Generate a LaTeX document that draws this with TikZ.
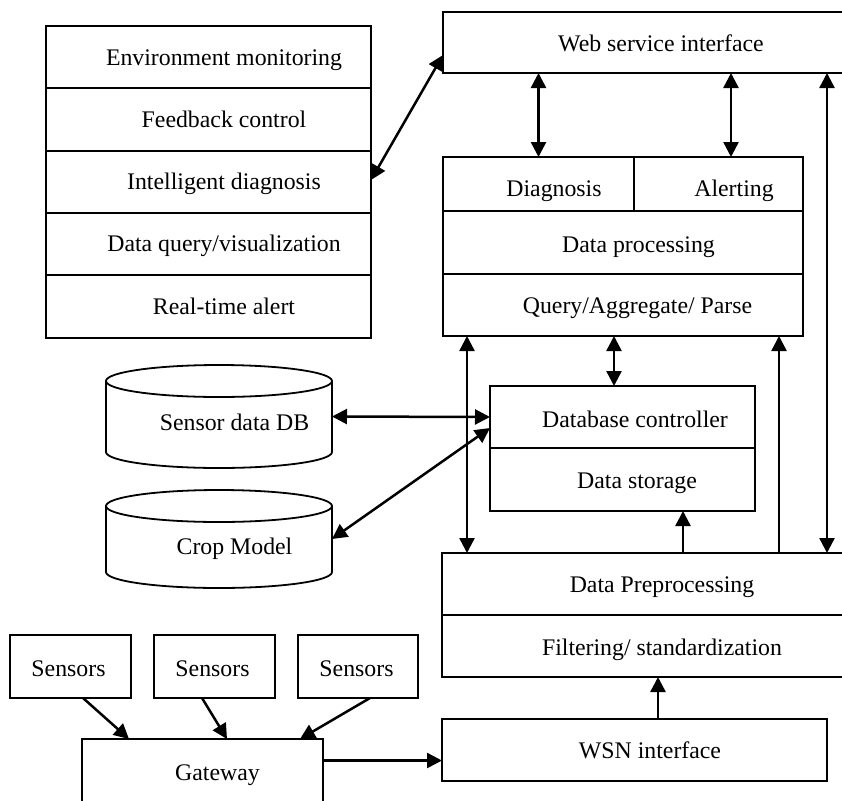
\documentclass[tikz,border=0pt]{standalone}
\usepackage{fontspec}
\setmainfont{Liberation Serif}
\usetikzlibrary{arrows.meta}
\newcommand\mybox[5]{\node[box,minimum width={(#4)-(#2)},minimum height={(#5)-(#3)}] (#1) at ({((#2)+(#4))/2},{((#3)+(#5))/2}) {};}
\begin{document}
\begin{tikzpicture}[x=1pt,y=-1pt,
  box/.style={draw,line width=1.8pt,inner sep=0pt,outer sep=0pt},
  lbl/.style={inner sep=0pt,text height=15.7pt,text depth=0pt,font=\fontsize{23.8}{28}\selectfont},
  conn/.style={line width=2.5pt},
  tip/.tip={Triangle[length=15pt,width=15pt]},
  ar/.style={conn,-tip},
  dar/.style={conn,tip-tip}]
\useasboundingbox (0,0) rectangle (842,800);
\clip (0,0) rectangle (842,800);
% left stack
\mybox{env}{46}{26}{371}{88}
\mybox{feed}{46}{88}{371}{151}
\mybox{idiag}{46}{151}{371}{213}
\mybox{dq}{46}{213}{371}{275}
\mybox{rta}{46}{275}{371}{338}
\node[lbl] (tenv) at (224,58) {Environment monitoring};
\node[lbl] (tfeed) at (224,120) {Feedback control};
\node[lbl] (tidiag) at (224,182) {Intelligent diagnosis};
\node[lbl] (tdq) at (224,244) {Data query/visualization};
\node[lbl] (trta) at (224,306.5) {Real-time alert};
% web
\mybox{web}{443}{12}{900}{73}
\node[lbl] (tweb) at (661,43.5) {Web service interface};
% processing block
\mybox{diag}{443}{157}{634}{211}
\mybox{alert}{634}{157}{803}{211}
\mybox{dp}{443}{211}{803}{274}
\mybox{query}{443}{274}{803}{336}
\node[lbl] (tdiag) at (554,189) {Diagnosis};
\node[lbl] (talert) at (734,189) {Alerting};
\node[lbl] (tdp) at (638.5,245) {Data processing};
\node[lbl] (tquery) at (637.5,306) {Query/Aggregate/ Parse};
% database
\mybox{dbc}{490}{386}{755}{448}
\mybox{dst}{490}{448}{755}{511}
\node[lbl] (tdbc) at (635,419.5) {Database controller};
\node[lbl] (tdst) at (637,480.5) {Data storage};
% preprocessing
\mybox{prep}{442}{553}{900}{615}
\mybox{filt}{442}{615}{900}{677}
\node[lbl] (tprep) at (662,585) {Data Preprocessing};
\node[lbl] (tfilt) at (662,647.5) {Filtering/ standardization};
% WSN
\mybox{wsn}{442}{719}{827}{781}
\node[lbl] (twsn) at (650,750.5) {WSN interface};
% sensors and gateway
\mybox{s1}{10}{635}{131}{698}
\mybox{s2}{154}{635}{275}{698}
\mybox{s3}{298}{635}{418}{698}
\mybox{gw}{82}{739}{323}{860}
\node[lbl] (ts1) at (68.5,668.5) {Sensors};
\node[lbl] (ts2) at (212.5,668.5) {Sensors};
\node[lbl] (ts3) at (356.5,668.5) {Sensors};
\node[lbl] (tgw) at (217.5,772.5) {Gateway};
% cylinders
\node[inner sep=0pt,outer sep=0pt,minimum width=226pt,minimum height=103pt] (cyl1) at (219,416.5) {};
\node[inner sep=0pt,outer sep=0pt,minimum width=226pt,minimum height=98pt] (cyl2) at (219,539) {};
\draw[line width=1.8pt] (106,381) -- (106,452) arc[start angle=180,end angle=360,x radius=113pt,y radius=16pt] -- (332,381);
\draw[line width=1.8pt] (219,381) ellipse [x radius=113pt,y radius=16pt];
\draw[line width=1.8pt] (106,506) -- (106,572) arc[start angle=180,end angle=360,x radius=113pt,y radius=16pt] -- (332,506);
\draw[line width=1.8pt] (219,506) ellipse [x radius=113pt,y radius=16pt];
\node[lbl] (tcyl1) at (234.5,423) {Sensor data DB};
\node[lbl] (tcyl2) at (234.5,547) {Crop Model};
% helper coordinates
\coordinate (xa) at (731,0);
\coordinate (xr) at (827,0);
\coordinate (xl) at (467,0);
\coordinate (xq) at (614,0);
\coordinate (xs) at (683,0);
\coordinate (xp) at (779,0);
\coordinate (xw) at (658,0);
\coordinate (yg) at (0,760.5);
% connectors
\draw[dar] ([yshift=2pt]idiag.east) -- ([yshift=-12.5pt]web.west);
\draw[dar] (web.south -| diag.north) -- (diag.north);
\draw[dar] (web.south -| xa) -- (alert.north -| xa);
\draw[dar] (web.south -| xr) -- (prep.north -| xr);
\draw[dar] (query.south -| xl) -- (prep.north -| xl);
\draw[dar] (query.south -| xq) -- (dbc.north -| xq);
\draw[ar] (prep.north -| xs) -- (dst.south -| xs);
\draw[ar] (prep.north -| xp) -- (query.south -| xp);
\draw[dar] (cyl1.east) -- (dbc.west);
\draw[dar] (cyl2.east) -- ([yshift=-11pt]dbc.west);
\draw[ar] (wsn.north -| xw) -- (filt.south -| xw);
\draw[ar] (gw.east |- yg) -- (wsn.west |- yg);
\draw[ar] ([xshift=12.5pt]s1.south) -- ([xshift=-73.5pt]gw.north);
\draw[ar] ([xshift=-12.5pt]s2.south) -- ([xshift=24.5pt]gw.north);
\draw[ar] ([xshift=12pt]s3.south) -- ([xshift=97.5pt]gw.north);
\end{tikzpicture}
\end{document}
